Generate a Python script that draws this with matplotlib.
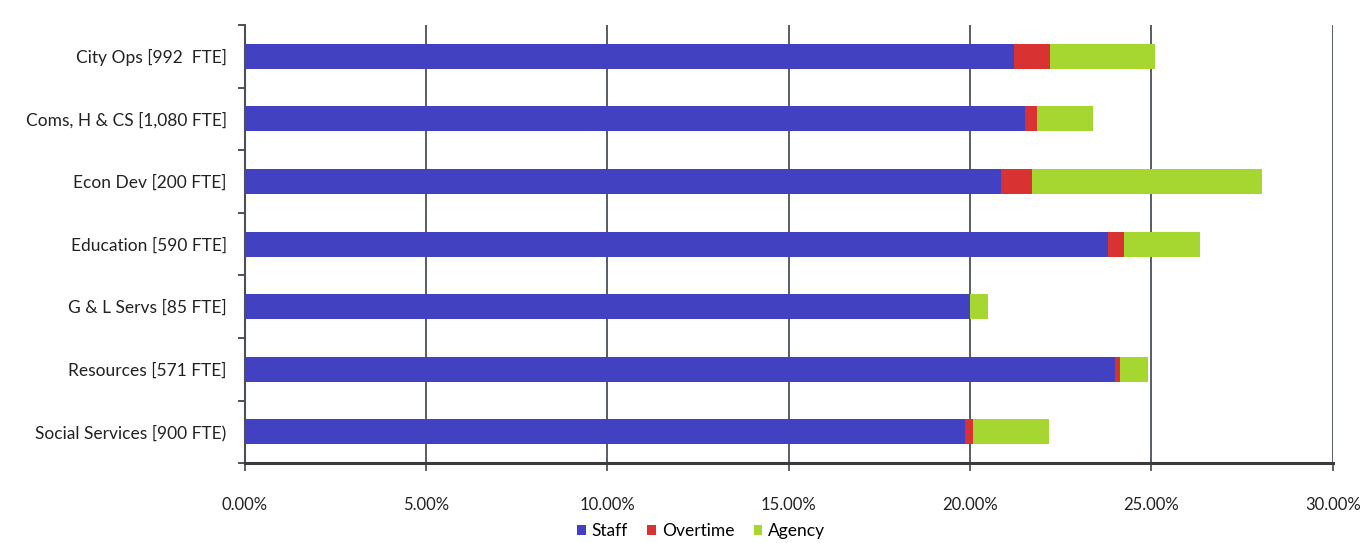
import matplotlib
matplotlib.use("Agg")
import matplotlib.pyplot as plt
from matplotlib.ticker import PercentFormatter, FixedLocator

categories = [
    "City Ops [992  FTE]",
    "Coms, H & CS [1,080 FTE]",
    "Econ Dev [200 FTE]",
    "Education [590 FTE]",
    "G & L Servs [85 FTE]",
    "Resources [571 FTE]",
    "Social Services [900 FTE)",
]
staff = [0.2120, 0.2150, 0.2085, 0.2380, 0.2000, 0.2400, 0.1985]
overtime = [0.0100, 0.0035, 0.0085, 0.0045, 0.0000, 0.0012, 0.0022]
agency = [0.0290, 0.0155, 0.0635, 0.0210, 0.0048, 0.0078, 0.0210]
series_names = ["Staff", "Overtime", "Agency"]
colors = ["#4141c2", "#d83232", "#a6d630"]

plt.rcParams["font.family"] = ["Lato", "DejaVu Sans"]

fig = plt.figure(figsize=(13.67, 5.43), dpi=100)
ax = fig.add_axes([0.179, 0.147, 0.796, 0.807])

y = list(range(len(categories)))
left = [0.0] * len(categories)
handles = []
for name, vals, col in zip(series_names, [staff, overtime, agency], colors):
    h = ax.barh(y, vals, left=left, height=0.4, color=col, label=name, zorder=3)
    handles.append(h)
    left = [a + b for a, b in zip(left, vals)]

ax.set_ylim(len(categories) - 0.5, -0.5)
ax.set_xlim(0, 0.30)
ax.set_yticks(y)
ax.set_yticklabels(categories, fontsize=12.5, color="#222222")
ax.yaxis.set_minor_locator(FixedLocator([i - 0.5 for i in range(len(categories) + 1)]))
ax.tick_params(axis="y", which="major", length=0, pad=13)
ax.tick_params(axis="y", which="minor", length=5, width=1.2, color="#333333")

ax.set_xticks([0, 0.05, 0.10, 0.15, 0.20, 0.25, 0.30])
ax.xaxis.set_major_formatter(PercentFormatter(xmax=1, decimals=2))
ax.tick_params(axis="x", length=6, width=1.2, color="#444444", pad=18,
               labelsize=12, labelcolor="#222222")

ax.grid(axis="x", color="#4a5058", linewidth=1.3, zorder=0)
for side in ["top", "right"]:
    ax.spines[side].set_visible(False)
ax.spines["left"].set_color("#4a5058")
ax.spines["left"].set_linewidth(1.5)
ax.spines["bottom"].set_color("#3a3a3a")
ax.spines["bottom"].set_linewidth(2.2)

fig.legend(handles=handles, labels=series_names, loc="lower center",
           bbox_to_anchor=(0.513, -0.022), ncol=3, frameon=False,
           fontsize=12.5, handlelength=0.5, handleheight=0.5,
           handletextpad=0.35, columnspacing=1.1)

fig.savefig("out.png", dpi=100, facecolor="white")
